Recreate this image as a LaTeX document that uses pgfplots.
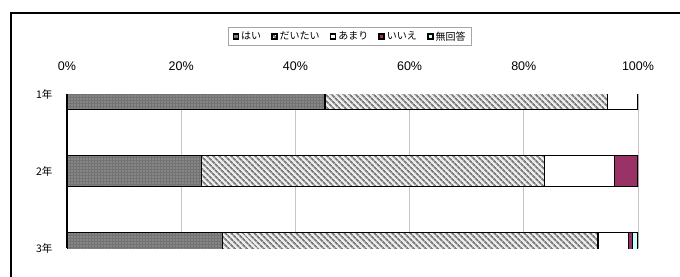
\documentclass[border=0pt]{standalone}
\usepackage{fontspec}
\setmainfont{Liberation Sans}
\newfontfamily\jp{Noto Sans CJK JP}
\usepackage{pgfplots}
\pgfplotsset{compat=1.18}
\usetikzlibrary{patterns,patterns.meta}
\definecolor{iie}{HTML}{993366}
\definecolor{mukaitou}{HTML}{CCFFFF}
\begin{document}
\begin{tikzpicture}
\useasboundingbox (0,0) rectangle (680pt,276pt);
\clip (0,0) rectangle (680pt,276pt);
\fill[white] (0,0) rectangle (680pt,276pt);
\draw[line width=2pt] (11pt,263pt) rectangle (720pt,-40pt);
\begin{axis}[
  at={(67pt,28pt)}, anchor=south west,
  width=571pt, height=154pt, scale only axis,
  xbar stacked, bar width=31pt,
  xmin=0, xmax=100, ymin=1, ymax=3,
  enlargelimits=false,
  y dir=reverse,
  axis x line*=top, axis y line*=left,
  x axis line style={draw=none},
  y axis line style={line width=1.2pt, black},
  tick style={draw=none},
  xtick={0,20,40,60,80,100},
  xticklabel={\pgfmathprintnumber{\tick}\%},
  xticklabel shift=20pt,
  /pgf/number format/assume math mode=true,
  xticklabel style={font=\fontsize{12.5}{14}\selectfont},
  ytick={1,2,3},
  yticklabels={1年,2年,3年},
  yticklabel style={font=\jp\fontsize{10.5}{12}\selectfont, xshift=-11pt},
  xmajorgrids,
  major grid style={gray!45, line width=0.7pt},
  legend columns=5,
  legend style={at={(0.5,1)}, anchor=south, yshift=48pt, xshift=-2.5pt,
    draw=gray!70, line width=0.7pt, font=\jp\fontsize{10}{12}\selectfont,
    inner xsep=4pt, inner ysep=2pt,
    /tikz/every even column/.append style={column sep=8pt}},
  legend image code/.code={\draw[#1, draw=black, line width=1.6pt] (0pt,-2.5pt) rectangle (5pt,2.5pt);},
]
\addplot[draw=black, line width=1.2pt, fill=gray!90!black, postaction={pattern={Dots[distance=3pt, radius=0.6pt]}, pattern color=gray!45}]
  coordinates {(45.2,1) (23.5,2) (27.2,3)};
\addplot[draw=black, line width=1.2pt, fill=gray!15, postaction={pattern={Lines[angle=-45, distance=4pt, line width=1.8pt]}, pattern color=gray!95!black}]
  coordinates {(49.4,1) (60.1,2) (65.8,3)};
\addplot[draw=black, line width=1.2pt, fill=white]
  coordinates {(5.4,1) (12.3,2) (5.3,3)};
\addplot[draw=black, line width=1.2pt, fill=iie]
  coordinates {(0,1) (4.1,2) (0.8,3)};
\addplot[draw=black, line width=1.2pt, fill=mukaitou]
  coordinates {(0,1) (0,2) (0.9,3)};
\legend{はい,だいたい,あまり,いいえ,無回答}
\end{axis}
\end{tikzpicture}
\end{document}
